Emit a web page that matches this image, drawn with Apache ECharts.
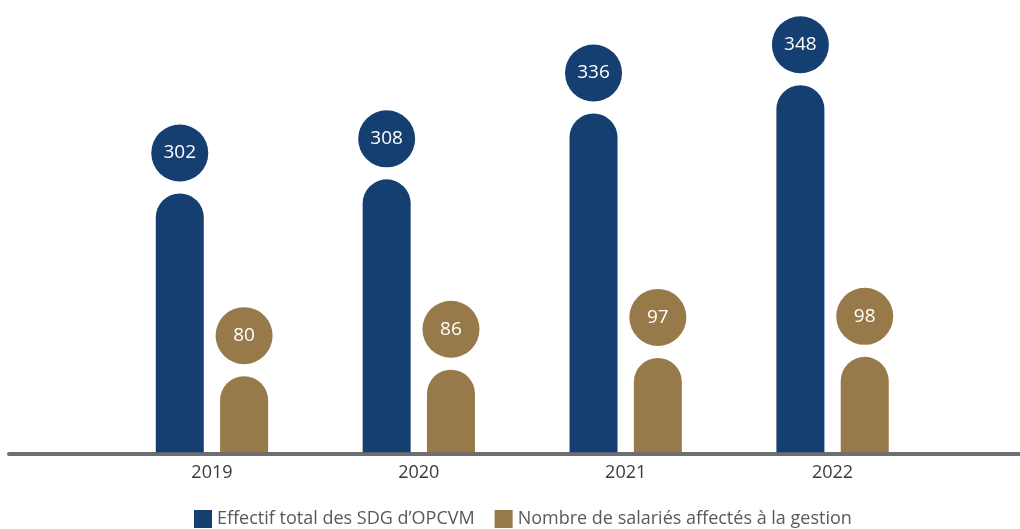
<!DOCTYPE html>
<html>
<head>
<meta charset="utf-8">
<script src="https://cdn.jsdelivr.net/npm/echarts@6/dist/echarts.min.js"></script>
<style>html,body{margin:0;padding:0;background:#fff}#c{width:1020px;height:529px}</style>
</head>
<body>
<div id="c"></div>
<script>
var categories = ['2019', '2020', '2021', '2022'];
var effectifTotal = [302, 308, 336, 348];
var salariesGestion = [80, 86, 97, 98];
var seriesNames = ['Effectif total des SDG d\u2019OPCVM', 'Nombre de salariés affectés à la gestion'];

var BLUE = '#143f70';
var BROWN = '#98794a';
var FONT = '"Open Sans", Lato, sans-serif';

function circleLabel(color) {
  return {
    show: true,
    position: 'top',
    distance: 12,
    width: 57,
    height: 57,
    lineHeight: 57,
    align: 'center',
    backgroundColor: color,
    borderRadius: 28.5,
    color: '#ffffff',
    fontSize: 19,
    fontFamily: FONT,
    fontWeight: 500
  };
}

var chart = echarts.init(document.getElementById('c'), null, {renderer: 'canvas'});
chart.setOption({
  animation: false,
  backgroundColor: '#ffffff',
  textStyle: {fontFamily: FONT},
  legend: {
    top: 510,
    left: 194,
    itemWidth: 18,
    itemHeight: 18,
    itemGap: 20,
    padding: 0,
    icon: 'rect',
    textStyle: {color: '#58595b', fontSize: 18, fontFamily: FONT},
    data: seriesNames
  },
  grid: [
    {left: 108.5, right: 84, top: 52.3, bottom: 76.7},
    {left: 9, right: 0, top: 52.3, bottom: 75}
  ],
  xAxis: [
    {
      type: 'category',
      gridIndex: 0,
      data: categories,
      axisLine: {show: false},
      axisTick: {show: false},
      axisLabel: {color: '#3a3a3a', fontSize: 18, margin: 12, fontFamily: FONT}
    },
    {
      type: 'value',
      gridIndex: 1,
      min: 0, max: 1,
      axisLine: {show: true, onZero: false, lineStyle: {color: '#6d6e71', width: 4}},
      axisTick: {show: false},
      axisLabel: {show: false},
      splitLine: {show: false}
    }
  ],
  yAxis: [
    {type: 'value', gridIndex: 0, min: 192, max: 362, show: false},
    {type: 'value', gridIndex: 0, min: 9, max: 382, show: false},
    {type: 'value', gridIndex: 1, min: 0, max: 1, show: false}
  ],
  series: [
    {
      name: seriesNames[0],
      type: 'bar',
      xAxisIndex: 0,
      yAxisIndex: 0,
      data: effectifTotal,
      barWidth: 48,
      barGap: '34%',
      itemStyle: {color: BLUE, borderRadius: [24, 24, 0, 0]},
      label: circleLabel(BLUE)
    },
    {
      name: seriesNames[1],
      type: 'bar',
      xAxisIndex: 0,
      yAxisIndex: 1,
      data: salariesGestion,
      barWidth: 48,
      barGap: '34%',
      itemStyle: {color: BROWN, borderRadius: [24, 24, 0, 0]},
      label: circleLabel(BROWN)
    }
  ]
});
</script>
</body>
</html>
